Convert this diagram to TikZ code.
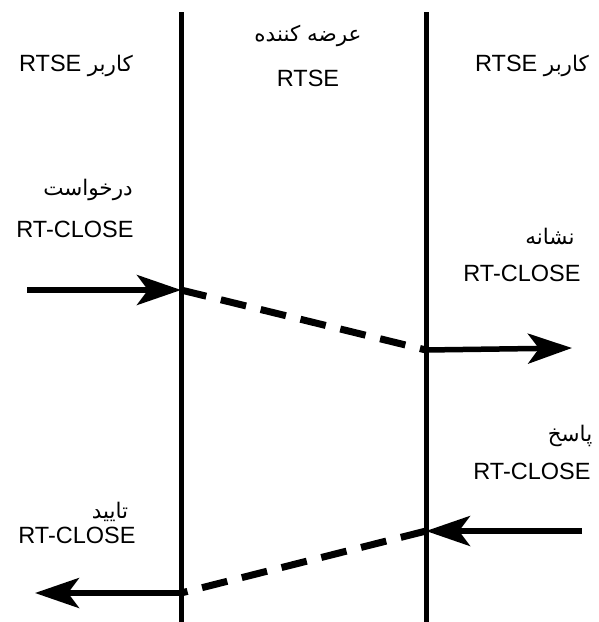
\documentclass[tikz,border=0pt]{standalone}
\usepackage{fontspec}
\setmainfont{Liberation Sans}
\newfontfamily\arabicfont[Script=Arabic]{DejaVu Sans}
\TeXXeTstate=1
\usetikzlibrary{arrows.meta}
\newcommand{\ar}[1]{{\arabicfont\fontsize{21.5}{25}\selectfont\beginR #1\endR}}
\begin{document}
\begin{tikzpicture}[x=1pt,y=-1pt,
  lifeline/.style={line width=5pt},
  msg/.style={line width=5.5pt,-{Stealth[length=44pt,width=30pt,inset=11pt]}},
  trans/.style={line width=7pt,dash pattern=on 26pt off 15pt},
  lbl/.style={font=\fontsize{23.5}{28}\selectfont,align=center,inner sep=0pt}]
\useasboundingbox (0,0) rectangle (598,622);
% lifelines
\coordinate (Lt) at (181,12); \coordinate (Lb) at (181,622);
\coordinate (Rt) at (426,12); \coordinate (Rb) at (426,622);
\draw[lifeline] (Lt) -- (Lb);
\draw[lifeline] (Rt) -- (Rb);
% headers
\node[lbl] (hl) at (76,66) {RTSE \ar{کاربر}};
\node[lbl] (hc1) at (308,36) {\ar{عرضه کننده}};
\node[lbl] (hc2) at (308,78) {RTSE};
\node[lbl] (hr) at (532,66) {RTSE \ar{کاربر}};
% labels
\node[lbl] (req1) at (88,190) {\ar{درخواست}};
\node[lbl] (req2) at (75,229) {RT-CLOSE};
\node[lbl] (ind1) at (550,236) {\ar{نشانه}};
\node[lbl] (ind2) at (522,273) {RT-CLOSE};
\node[lbl] (rsp1) at (570,436) {\ar{پاسخ}};
\node[lbl] (rsp2) at (532,471) {RT-CLOSE};
\node[lbl] (cnf1) at (110,512) {\ar{تایید}};
\node[lbl] (cnf2) at (77,535) {RT-CLOSE};
% message points
\coordinate (a0) at (27,290); \coordinate (a1) at (181,290);
\coordinate (b1) at (426,350); \coordinate (b2) at (572,348);
\coordinate (c0) at (582,531); \coordinate (c1) at (426,531);
\coordinate (d1) at (181,593); \coordinate (d2) at (35,593);
\draw[msg] (a0) -- (a1);
\draw[trans] (a1) -- (b1);
\draw[msg] (b1) -- (b2);
\draw[msg] (c0) -- (c1);
\draw[trans] (c1) -- (d1);
\draw[msg] (d1) -- (d2);
\end{tikzpicture}
\end{document}
